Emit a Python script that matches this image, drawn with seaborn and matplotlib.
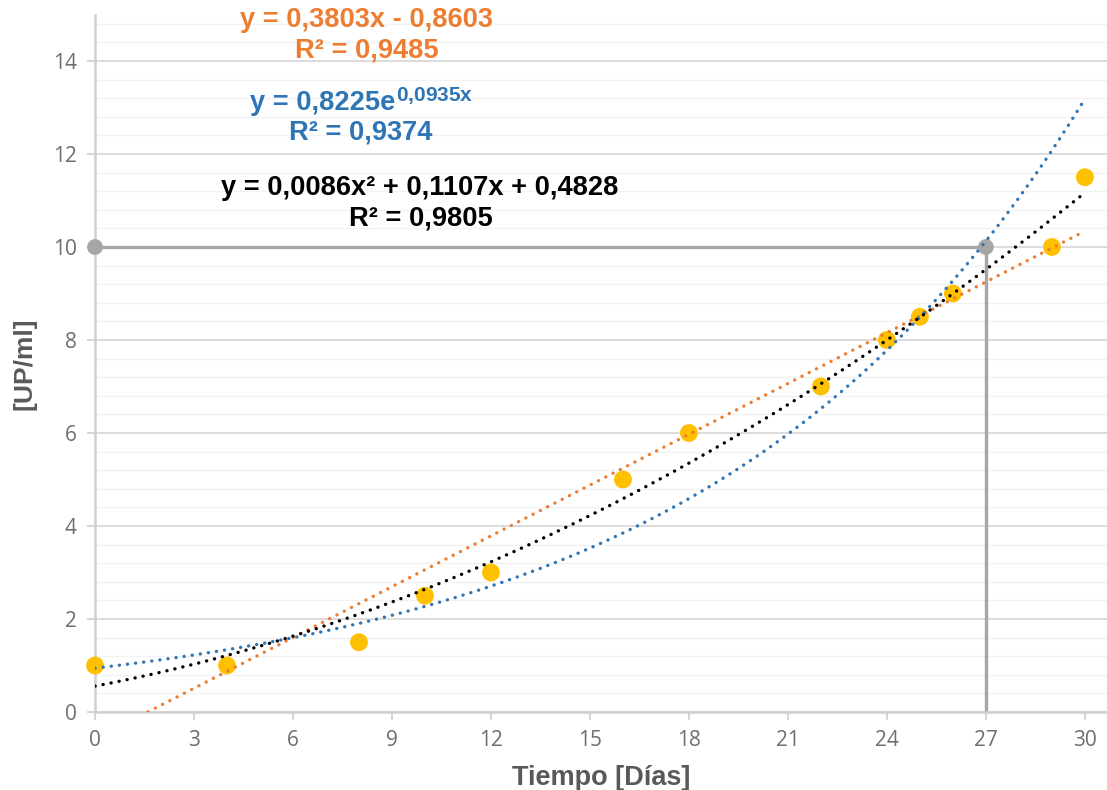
import numpy as np
import pandas as pd
import matplotlib
matplotlib.use("Agg")
import matplotlib.pyplot as plt
import seaborn as sns
from matplotlib.ticker import MultipleLocator

# ---- data ----
dias = [0, 4, 8, 10, 12, 16, 18, 22, 24, 25, 26, 29, 30]
up_ml = [1.0, 1.0, 1.5, 2.5, 3.0, 5.0, 6.0, 7.0, 8.0, 8.5, 9.0, 10.0, 11.5]
ref_x = [0, 27, 27]
ref_y = [10, 10, 0]
x_ticks = [0, 3, 6, 9, 12, 15, 18, 21, 24, 27, 30]
y_ticks = [0, 2, 4, 6, 8, 10, 12, 14]
eq_lin = ["y = 0,3803x - 0,8603", "R² = 0,9485"]
eq_exp = ["y = 0,8225e", "0,0935x", "R² = 0,9374"]
eq_pol = ["y = 0,0086x² + 0,1107x + 0,4828", "R² = 0,9805"]

sns.set_theme(style="white")
plt.rcParams["font.family"] = ["Liberation Sans", "DejaVu Sans"]
plt.rcParams["mathtext.fontset"] = "custom"
plt.rcParams["mathtext.rm"] = "Liberation Sans"
plt.rcParams["mathtext.bf"] = "Liberation Sans:bold"

ORANGE = "#ED7D31"
BLUE = "#2E75B6"
BLACK = "#000000"
GOLD = "#FFC000"
GRAY = "#A6A6A6"
TXT = "#6E6E6E"

fig = plt.figure(figsize=(11.07, 7.9), dpi=100)
ax = fig.add_axes([95 / 1107, 1 - 712 / 790, 1 - 95 / 1107, (712 - 14.5) / 790])

x = np.array(dias, dtype=float)
y = np.array(up_ml, dtype=float)
xs = np.linspace(0, 30, 300)

# fits
p1 = np.polyfit(x, y, 1)
p2 = np.polyfit(x, y, 2)
pe = np.polyfit(x, np.log(y), 1)
lin = np.polyval(p1, xs)
mask = lin >= 0
pol = np.polyval(p2, xs)
expo = np.exp(np.polyval(pe, xs))

# reference lines
ax.plot(ref_x, ref_y, color=GRAY, lw=2.4, zorder=2, solid_capstyle="butt")
sns.scatterplot(x=ref_x[:2], y=ref_y[:2], color=GRAY, s=130, edgecolor="none", ax=ax, zorder=3, clip_on=False)

dot = dict(lw=2.4, dash_capstyle="round", zorder=5)
ax.plot(xs[mask], lin[mask], color=ORANGE, ls=(0, (0.05, 2.4)), **dot)
ax.plot(xs, expo, color=BLUE, ls=(0, (0.05, 2.4)), **dot)
ax.plot(xs, pol, color=BLACK, ls=(0, (0.05, 2.4)), **dot)

df = pd.DataFrame({"Tiempo": dias, "UP": up_ml})
sns.scatterplot(data=df, x="Tiempo", y="UP", color=GOLD, s=165, edgecolor="none",
                ax=ax, zorder=4, clip_on=False)

ax.set_xlim(0, 30.67)
ax.set_ylim(0, 15)
ax.set_xticks(x_ticks)
ax.set_yticks(y_ticks)
ax.yaxis.set_minor_locator(MultipleLocator(0.4))
ax.grid(which="major", axis="y", color="#D9D9D9", lw=1.3, zorder=0)
ax.grid(which="minor", axis="y", color="#F2F2F2", lw=1.0, zorder=0)
ax.grid(False, axis="x")
ax.set_axisbelow(True)
for s in ["top", "right"]:
    ax.spines[s].set_visible(False)
for s in ["left", "bottom"]:
    ax.spines[s].set_color("#D0D0D0")
    ax.spines[s].set_linewidth(1.8)
ax.tick_params(axis="both", which="major", length=6, width=1.2, color="#D0D0D0",
               labelsize=15, labelcolor=TXT, pad=7, direction="out", bottom=True, left=True)
ax.tick_params(axis="y", which="minor", length=0)
for lab in ax.get_xticklabels() + ax.get_yticklabels():
    lab.set_family(["Open Sans", "DejaVu Sans"])

ax.set_xlabel("Tiempo [Días]", fontsize=19.5, fontweight="bold", color="#595959", labelpad=10)
ax.set_ylabel("[UP/ml]", fontsize=19, fontweight="bold", color="#595959", labelpad=12)

# equations
W, H = 1107, 790
def ft(px, py, s, c, size, **kw):
    fig.text(px / W, 1 - py / H, s, color=c, fontsize=size, fontweight="bold",
             ha="center", va="center", **kw)

ft(366, 20, eq_lin[0], ORANGE, 19.6)
ft(367, 51, eq_lin[1], ORANGE, 19.6)
t = fig.text(250 / W, 1 - 103 / H, eq_exp[0], color=BLUE, fontsize=19.6, fontweight="bold",
             ha="left", va="center")
fig.canvas.draw()
bb = t.get_window_extent()
fig.text(bb.x1 / W + 0.001, 1 - 95 / H, r"$\mathbf{" + eq_exp[1].replace(",", "{,}") + "}$",
         color=BLUE, fontsize=15, ha="left", va="center")
ft(361, 132, eq_exp[2], BLUE, 19.6)
ft(420, 188, eq_pol[0], BLACK, 19.6)
ft(421, 218, eq_pol[1], BLACK, 19.6)

fig.savefig("out.png", dpi=100)
